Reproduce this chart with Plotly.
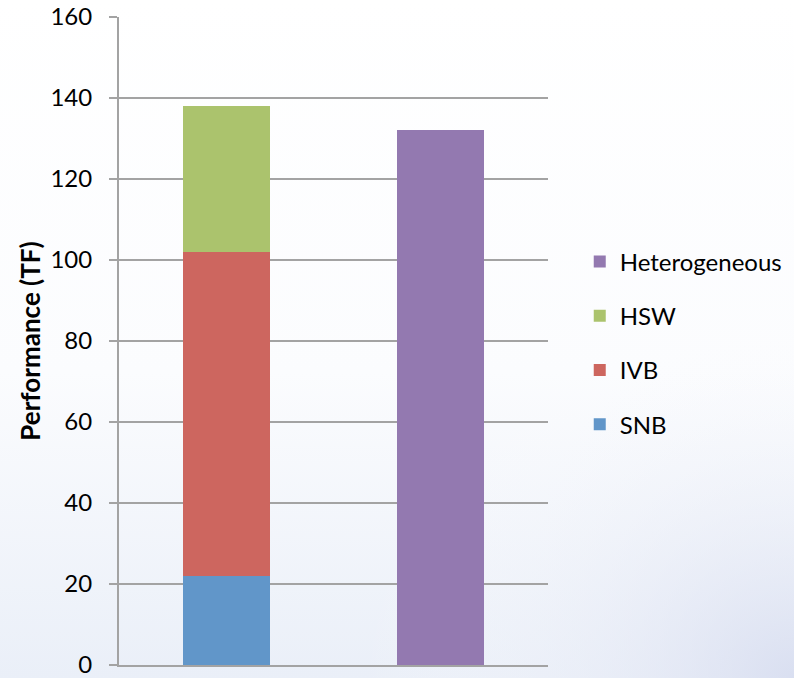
import base64
import plotly.graph_objects as go

# Performance (TF) per configuration
categories = ["Cluster", "Hetero"]
snb = [22, 0]
ivb = [80, 0]
hsw = [36, 0]
heterogeneous = [0, 132]

# (name, values, colour, position in the legend from the top)
series = [
    ("SNB", snb, "#6196C9", 4),
    ("IVB", ivb, "#CD665F", 3),
    ("HSW", hsw, "#ABC36D", 2),
    ("Heterogeneous", heterogeneous, "#9379B0", 1),
]

y_ticks = [0, 20, 40, 60, 80, 100, 120, 140, 160]

FONT = "Lato, 'Open Sans', sans-serif"
GRID = "#A3A3A3"

fig = go.Figure()
for name, vals, color, rank in series:
    fig.add_trace(go.Bar(
        x=categories,
        y=vals,
        name=name,
        marker=dict(color=color, line=dict(width=0)),
        legendgroup=name,
        legendrank=rank,
        hoverinfo="y+name",
    ))

# soft bluish backdrop that fades in toward the bottom of the page
svg = """<svg xmlns='http://www.w3.org/2000/svg' width='794' height='678'>
<defs>
<linearGradient id='v' x1='0' y1='0' x2='0' y2='1'>
<stop offset='0' stop-color='#FFFFFF'/>
<stop offset='0.55' stop-color='#FBFCFE'/>
<stop offset='1' stop-color='#EAEFF8'/>
</linearGradient>
<radialGradient id='r' cx='1' cy='1' r='0.55'>
<stop offset='0' stop-color='#D5DBEF' stop-opacity='0.8'/>
<stop offset='1' stop-color='#FFFFFF' stop-opacity='0'/>
</radialGradient>
</defs>
<rect width='794' height='678' fill='url(#v)'/>
<rect width='794' height='678' fill='url(#r)'/>
</svg>"""
bg_uri = "data:image/svg+xml;base64," + base64.b64encode(svg.encode()).decode()

fig.update_layout(
    width=794,
    height=678,
    barmode="stack",
    bargap=0.595,
    margin=dict(l=119, r=246, t=17, b=13, autoexpand=False),
    paper_bgcolor="rgba(0,0,0,0)",
    plot_bgcolor="rgba(0,0,0,0)",
    font=dict(family=FONT, size=24, color="#000000"),
    images=[dict(
        source=bg_uri, xref="paper", yref="paper",
        x=-119 / 429, y=1 + 17 / 648,
        sizex=794 / 429, sizey=678 / 648,
        xanchor="left", yanchor="top",
        sizing="stretch", layer="below",
    )],
    showlegend=True,
    legend=dict(
        x=1.074, y=0.497, xanchor="left", yanchor="middle",
        traceorder="grouped",
        tracegroupgap=20,
        font=dict(family=FONT, size=24),
        bgcolor="rgba(0,0,0,0)",
        itemwidth=30,
    ),
    xaxis=dict(
        showticklabels=False,
        showgrid=False,
        showline=True,
        linecolor=GRID,
        linewidth=2,
        ticks="",
        zeroline=False,
        fixedrange=True,
        automargin=False,
    ),
    yaxis=dict(
        range=[0, 160],
        tickvals=y_ticks,
        ticktext=[str(v) for v in y_ticks],
        showgrid=True,
        gridcolor=GRID,
        gridwidth=1.5,
        showline=True,
        linecolor=GRID,
        linewidth=2,
        ticks="outside",
        ticklen=8,
        tickwidth=1.5,
        tickcolor=GRID,
        ticklabelstandoff=12,
        ticklabeloverflow="allow",
        zeroline=False,
        automargin=False,
        tickfont=dict(family=FONT, size=24),
        title=dict(
            text="<b>Performance (TF)</b>",
            font=dict(family=FONT, size=26),
            standoff=2,
        ),
    ),
)

fig.write_html("out.html")
